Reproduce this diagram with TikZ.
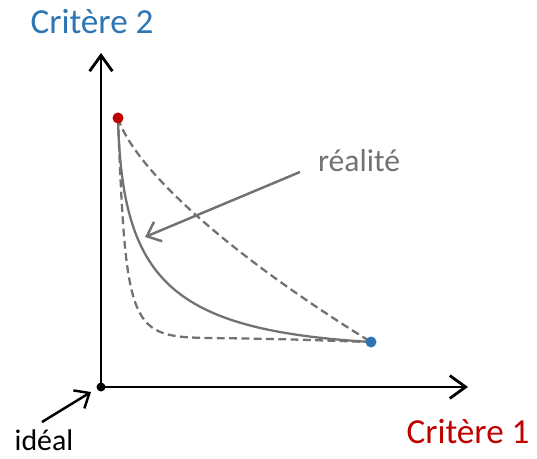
\documentclass[tikz,border=0pt]{standalone}
\usepackage{fontspec}
\setmainfont{Carlito}
\usepackage{xcolor}
\usetikzlibrary{arrows.meta, positioning, calc}
\definecolor{critbleu}{HTML}{2E75B6}
\definecolor{critrouge}{HTML}{C00000}
\definecolor{gristxt}{HTML}{767171}

\begin{document}
\begin{tikzpicture}[x=0.02cm, y=-0.02cm,
  axe/.style={line width=1.6pt, -{Straight Barb[length=9pt, width=13pt, line width=1.6pt]}},
  front/.style={gristxt, line width=1.3pt},
  pointille/.style={front, dash pattern=on 4.5pt off 2.5pt},
  fleche/.style={line width=1.4pt, -{Straight Barb[length=7pt, width=12pt, line width=1.4pt]}}]
  \useasboundingbox (0,0) rectangle (537,459);
  % Axes and key points
  \coordinate (O) at (101,387);
  \coordinate (Ytip) at (101,53);
  \coordinate (Xtip) at (468,387);
  \coordinate (A) at (118,118);
  \coordinate (B) at (371,342);
  \draw[axe] (O) -- (Ytip);
  \draw[axe] (O) -- (Xtip);
  % Fronts: convex, real and concave
  \draw[pointille] (A) .. controls (135,170) and (230,255) .. (B);
  \draw[front] (A) .. controls (122,280) and (170,330) .. (B);
  \draw[pointille] (A) .. controls (126,330) and (130,337) .. (210,338)
    .. controls (280,339) .. (B);
  % Points
  \fill[critrouge] (A) circle (5.5);
  \fill[critbleu] (B) circle (5.5);
  \fill (O) circle (4.5);
  % Labels
  \node[critbleu, font=\fontsize{20}{24}\selectfont] (c2) at (92,22) {Critère 2};
  \node[critrouge, font=\fontsize{20}{24}\selectfont] (c1) at (468,432) {Critère 1};
  \node[gristxt, font=\fontsize{18}{22}\selectfont] (real) at (359,161) {réalité};
  \node[font=\fontsize{17}{20}\selectfont] (ideal) at (44,440) {idéal};
  \coordinate (realtip) at (145,237);
  \coordinate (realstart) at (300,172);
  \coordinate (idealstart) at (42,422);
  \coordinate (idealtip) at (91,392);
  \draw[fleche, gristxt] (realstart) -- (realtip);
  \draw[fleche] (idealstart) -- (idealtip);
\end{tikzpicture}
\end{document}
